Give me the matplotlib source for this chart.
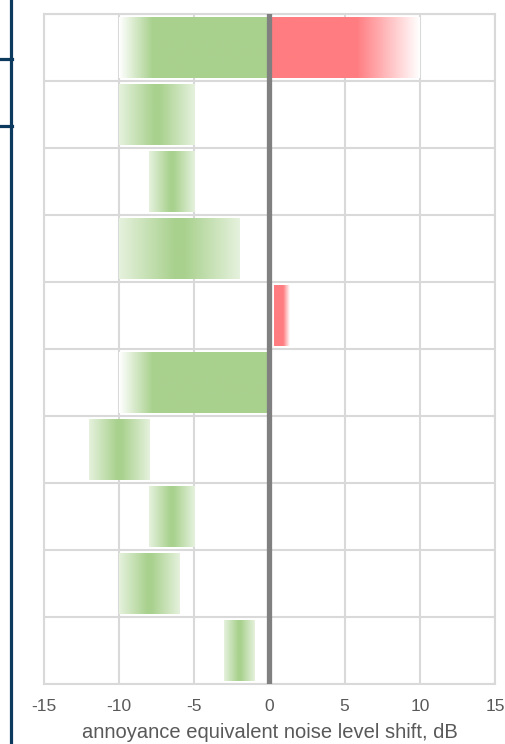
import numpy as np
import matplotlib
matplotlib.use("Agg")
import matplotlib.pyplot as plt
from matplotlib.lines import Line2D
from matplotlib import colors as mcolors

plt.rcParams['font.family'] = ['Liberation Sans', 'DejaVu Sans']

# rows from top to bottom
green_low = [-10, -10, -8, -10, None, -10, -12, -8, -10, -3]
green_high = [0, -5, -5, -2, None, 0, -8, -5, -6, -1]
green_style = ['left', 'mid', 'mid', 'mid', None, 'left', 'mid', 'mid', 'mid', 'mid']
red_low = [0, None, None, None, 0.3, None, None, None, None, None]
red_high = [10, None, None, None, 1.3, None, None, None, None, None]
x_ticks = [-15, -10, -5, 0, 5, 10, 15]
x_label = 'annoyance equivalent noise level shift, dB'

GREEN = mcolors.to_rgb('#a9d18e')
RED = mcolors.to_rgb('#ff7c80')
W, H = 506, 744


def grad_image(color, style, n=200):
    xs = np.linspace(0, 1, n)
    if style == 'left':      # fades in from white, then solid
        a = np.clip(xs / 0.22, 0, 1)
    elif style == 'right':   # solid, then fades out to white
        a = np.clip((1 - xs) / 0.42, 0, 1)
    else:                    # light edges, solid middle
        d = np.abs(xs - 0.5) * 2
        a = 1 - 0.7 * np.clip((d - 0.08) / 0.92, 0, 1)
    img = np.ones((1, n, 3))
    for k in range(3):
        img[0, :, k] = 1 - a * (1 - color[k])
    return img


fig = plt.figure(figsize=(W / 100, H / 100), dpi=100)
ax = fig.add_axes([44 / W, (H - 684) / H, (495 - 44) / W, (684 - 14) / H])

for i in range(10):
    y0, y1 = i + 0.95, i + 0.05
    if green_low[i] is not None:
        ax.imshow(grad_image(GREEN, green_style[i]),
                  extent=[green_low[i], green_high[i], y0, y1], aspect='auto',
                  interpolation='bilinear', zorder=2)
    if red_low[i] is not None:
        ax.imshow(grad_image(RED, 'right'),
                  extent=[red_low[i], red_high[i], y0, y1], aspect='auto',
                  interpolation='bilinear', zorder=2)

ax.axvline(0, color='#808080', lw=3.8, zorder=4)

ax.set_xlim(-15, 15)
ax.set_ylim(10, 0)
ax.set_xticks(x_ticks)
ax.set_xticklabels([str(t) for t in x_ticks])
ax.set_yticks(range(11))
ax.set_yticklabels([])
ax.grid(True, color='#d9d9d9', lw=1.5, zorder=1)
ax.set_axisbelow(True)
for s in ax.spines.values():
    s.set_color('#d9d9d9')
    s.set_linewidth(1.5)
ax.tick_params(length=0, labelsize=12.5, labelcolor='#595959', pad=11)
ax.set_xlabel(x_label, fontsize=14.5, color='#595959', labelpad=6)

# navy bracket on the left edge
navy = '#0b3a5e'
fig.add_artist(Line2D([11 / W, 11 / W], [0, 1], color=navy, lw=2.3,
                      transform=fig.transFigure))
for yy in (59, 126):
    fig.add_artist(Line2D([0, 12 / W], [1 - yy / H, 1 - yy / H], color=navy,
                          lw=2.3, transform=fig.transFigure))

fig.savefig('out.png', dpi=100)
